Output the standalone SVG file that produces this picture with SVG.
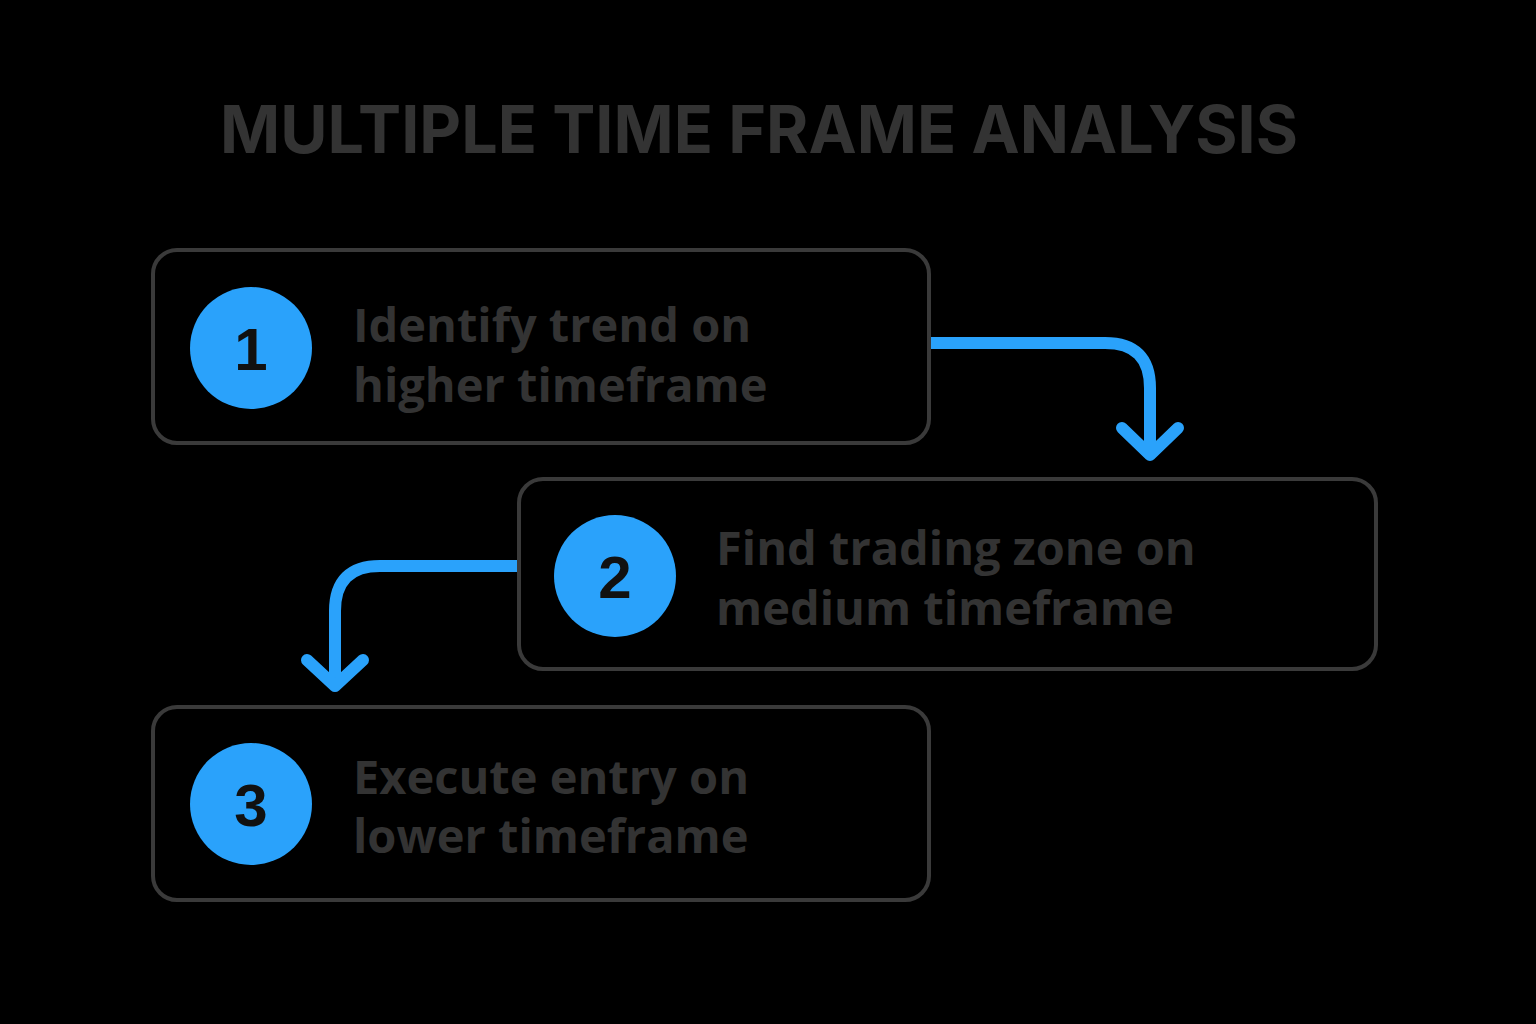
<svg xmlns="http://www.w3.org/2000/svg" width="1536" height="1024" viewBox="0 0 1536 1024">
<style>
.box{fill:#000;stroke:#3a3a3a;stroke-width:4}
.num{fill:#2aa2fb}
.nt{font-family:"Liberation Sans",Arial,sans-serif;font-weight:bold;font-size:60px;fill:#111;text-anchor:middle}
.lbl{font-family:"Open Sans","Liberation Sans",sans-serif;font-weight:bold;font-size:47px;fill:#333}
.con{fill:none;stroke:#2aa2fb;stroke-width:12;stroke-linecap:round;stroke-linejoin:round}
</style>
<rect width="1536" height="1024" fill="#000"/>
<text x="220" y="153" font-family="Inter,'Liberation Sans',sans-serif" font-weight="bold" font-size="66" fill="#333" textLength="1078" lengthAdjust="spacingAndGlyphs">MULTIPLE TIME FRAME ANALYSIS</text>
<g id="connectors">
<path class="con" d="M929 343 H1105 Q1150 343 1150 388 V452"/>
<path class="con" d="M1122 428 L1150 455 L1178 428"/>
<path class="con" d="M519 566 H380 Q335 566 335 611 V683"/>
<path class="con" d="M307 660 L335 686 L363 660"/>
</g>
<g id="node1">
<rect class="box" x="153" y="250" width="776" height="193" rx="24"/>
<circle class="num" cx="251" cy="348" r="61"/>
<text class="nt" x="251" y="370">1</text>
<text class="lbl" x="353" y="342">Identify trend on</text>
<text class="lbl" x="353" y="402">higher timeframe</text>
</g>
<g id="node2">
<rect class="box" x="519" y="479" width="857" height="190" rx="24"/>
<circle class="num" cx="615" cy="576" r="61"/>
<text class="nt" x="615" y="598">2</text>
<text class="lbl" x="716" y="565">Find trading zone on</text>
<text class="lbl" x="716" y="625">medium timeframe</text>
</g>
<g id="node3">
<rect class="box" x="153" y="707" width="776" height="193" rx="24"/>
<circle class="num" cx="251" cy="804" r="61"/>
<text class="nt" x="251" y="826">3</text>
<text class="lbl" x="353" y="794">Execute entry on</text>
<text class="lbl" x="353" y="853">lower timeframe</text>
</g>
</svg>
